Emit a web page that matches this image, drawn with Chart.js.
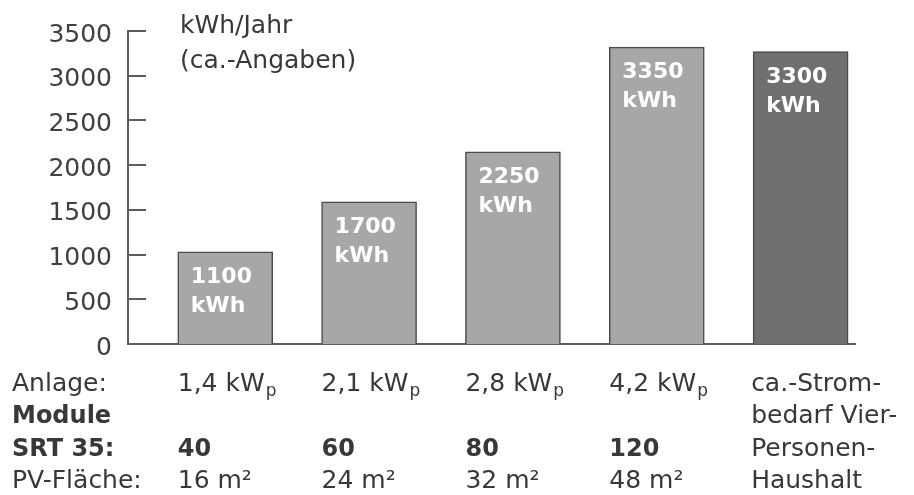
<!DOCTYPE html>
<html><head><meta charset="utf-8">
<script src="https://cdn.jsdelivr.net/npm/chart.js@4.4.1/dist/chart.umd.min.js"></script>
<style>html,body{margin:0;padding:0;background:#fff}#wrap{width:914px;height:495px;position:relative}</style>
</head><body><div id="wrap"><canvas id="c"></canvas></div>
<script>
// ---- data ----
const categories = ['1,4 kWp', '2,1 kWp', '2,8 kWp', '4,2 kWp', 'Vier-Personen-Haushalt'];
const barValues = [1030, 1590, 2150, 3320, 3270];          // bar heights as drawn
const valueLabels = ['1100', '1700', '2250', '3350', '3300']; // printed values
const valueUnit = 'kWh';
const yTicks = [0, 500, 1000, 1500, 2000, 2500, 3000, 3500];
const unitTitle = ['kWh/Jahr', '(ca.-Angaben)'];
const rowLabels = ['Anlage:', 'Module', 'SRT 35:', 'PV-Fläche:'];
const anlageKW = ['1,4 kW', '2,1 kW', '2,8 kW', '4,2 kW'];
const anlageSub = 'p';
const modules = ['40', '60', '80', '120'];
const pvArea = ['16 m²', '24 m²', '32 m²', '48 m²'];
const lastColumnLines = ['ca.-Strom-', 'bedarf Vier-', 'Personen-', 'Haushalt'];
const barColors = ['#a7a7a7', '#a7a7a7', '#a7a7a7', '#a7a7a7', '#6f6f6f'];

const FONT = '"DejaVu Sans", sans-serif';
const TXT = '#383838';
const AXIS = '#5c5c5c';

const overlay = {
  id: 'overlay',
  afterDraw(chart) {
    const ctx = chart.ctx, ca = chart.chartArea, ys = chart.scales.y;
    const bars = chart.getDatasetMeta(0).data;
    ctx.save();
    // inner tick marks
    ctx.strokeStyle = AXIS; ctx.lineWidth = 2;
    yTicks.forEach(v => {
      if (v === 0) return;
      const y = Math.round(ys.getPixelForValue(v));
      ctx.beginPath(); ctx.moveTo(ca.left, y); ctx.lineTo(ca.left + 18, y); ctx.stroke();
    });
    // value labels inside bars
    ctx.fillStyle = '#ffffff';
    ctx.font = 'bold 22px ' + FONT;
    ctx.textAlign = 'left'; ctx.textBaseline = 'alphabetic';
    bars.forEach((el, i) => {
      const left = el.x - el.width / 2;
      ctx.fillText(valueLabels[i], left + 13, el.y + 31);
      ctx.fillText(valueUnit, left + 13, el.y + 60);
    });
    // unit title
    ctx.fillStyle = TXT;
    ctx.font = '25px ' + FONT;
    ctx.fillText(unitTitle[0], ca.left + 52, 33);
    ctx.fillText(unitTitle[1], ca.left + 52, 68);
    // table below
    const rowsY = [391, 423, 456, 488];
    const reg = '25px ' + FONT, bold = 'bold 24px ' + FONT;
    ctx.font = reg; ctx.fillText(rowLabels[0], 12, rowsY[0]);
    ctx.font = bold; ctx.fillText(rowLabels[1], 12, rowsY[1]);
    ctx.fillText(rowLabels[2], 12, rowsY[2]);
    ctx.font = reg; ctx.fillText(rowLabels[3], 12, rowsY[3]);
    bars.forEach((el, i) => {
      const left = el.x - el.width / 2;
      if (i < anlageKW.length) {
        ctx.font = reg;
        ctx.fillText(anlageKW[i], left, rowsY[0]);
        const w = ctx.measureText(anlageKW[i]).width;
        ctx.font = '17px ' + FONT;
        ctx.fillText(anlageSub, left + w + 1, rowsY[0] + 5);
        ctx.font = bold;
        ctx.fillText(modules[i], left, rowsY[2]);
        ctx.font = reg;
        ctx.fillText(pvArea[i], left, rowsY[3]);
      } else {
        ctx.font = reg;
        lastColumnLines.forEach((t, r) => ctx.fillText(t, left - 2, rowsY[r]));
      }
    });
    ctx.restore();
  }
};

new Chart(document.getElementById('c'), {
  type: 'bar',
  data: {
    labels: categories,
    datasets: [{
      data: barValues.map((v, i) => ({ x: i, y: v })),
      backgroundColor: barColors,
      borderColor: '#4a4a4a',
      borderWidth: 1.5,
      barThickness: 95
    }]
  },
  options: {
    responsive: true,
    maintainAspectRatio: false,
    animation: false,
    layout: { padding: { top: 31, bottom: 151, left: 0, right: 59 } },
    plugins: { legend: { display: false }, tooltip: { enabled: false } },
    scales: {
      x: {
        type: 'linear', min: -0.676, max: 4.378, offset: false,
        ticks: { display: false },
        grid: { display: false, drawTicks: false, offset: false },
        border: { display: true, color: AXIS, width: 2 },
        afterFit: s => { s.height = 0; }
      },
      y: {
        min: 0, max: 3500,
        ticks: {
          stepSize: 500, padding: 16, labelOffset: 4, color: '#404040',
          font: { family: FONT, size: 25 },
          callback: v => String(v)
        },
        grid: { display: false, drawTicks: false },
        border: { display: true, color: AXIS, width: 2 },
        afterFit: s => { s.width = 128; }
      }
    }
  },
  plugins: [overlay]
});
</script>
</body></html>
